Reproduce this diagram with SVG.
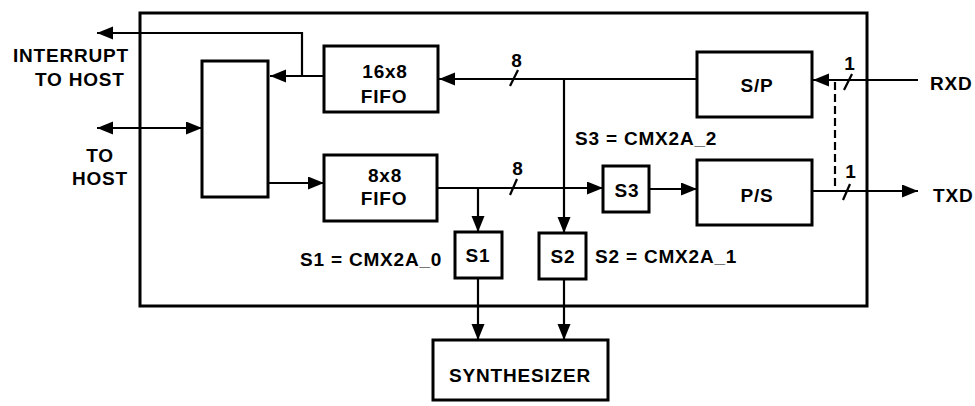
<svg xmlns="http://www.w3.org/2000/svg" width="975" height="406" viewBox="0 0 975 406">
<style>
.box{fill:none;stroke:#000;stroke-width:3}
.ln{fill:none;stroke:#000;stroke-width:2.2}
.arr{marker-end:url(#ah)}
.t{font-family:"Liberation Sans",Arial,sans-serif;font-weight:bold;font-size:19px;letter-spacing:0.8px;fill:#000}
.m{text-anchor:middle}
</style>
<defs>
<marker id="ah" markerUnits="userSpaceOnUse" markerWidth="17" markerHeight="14" refX="16" refY="6.5" orient="auto-start-reverse">
<path d="M0,0 L16,6.5 L0,13 z" fill="#000"/>
</marker>
</defs>
<rect width="975" height="406" fill="#fff"/>
<g id="outer"><rect class="box" x="140" y="13" width="727" height="293"/></g>
<g id="connectors">
<line class="ln arr" x1="324" y1="76" x2="270" y2="76"/>
<polyline class="ln arr" points="302,76 302,33 97,33"/>
<line class="ln" x1="97" y1="128" x2="202" y2="128" marker-start="url(#ah)" marker-end="url(#ah)"/>
<line class="ln arr" x1="268" y1="183" x2="324" y2="183"/>
<line class="ln arr" x1="697" y1="79" x2="439" y2="79"/>
<line class="ln arr" x1="564" y1="79" x2="564" y2="233"/>
<line class="ln arr" x1="437" y1="188" x2="603" y2="188"/>
<line class="ln arr" x1="478" y1="188" x2="478" y2="232"/>
<line class="ln arr" x1="649" y1="189" x2="697" y2="189"/>
<line class="ln arr" x1="812" y1="191" x2="918" y2="191"/>
<line class="ln arr" x1="918" y1="80" x2="813" y2="80"/>
<line class="ln arr" x1="478" y1="278" x2="478" y2="340"/>
<line class="ln arr" x1="564" y1="279" x2="564" y2="340"/>
<line class="ln" x1="835" y1="82" x2="835" y2="191" stroke-dasharray="8,4"/>
<line class="ln" x1="510" y1="86" x2="518" y2="70"/>
<line class="ln" x1="510" y1="195" x2="517" y2="179"/>
<line class="ln" x1="844" y1="90" x2="852" y2="74"/>
<line class="ln" x1="843" y1="200" x2="850" y2="184"/>
<text class="t m" x="517" y="67">8</text>
<text class="t m" x="518" y="175">8</text>
<text class="t m" x="850" y="70">1</text>
<text class="t m" x="851" y="178">1</text>
</g>
<g id="host-labels">
<text class="t" x="13" y="62">INTERRUPT</text>
<text class="t" x="35" y="86">TO HOST</text>
<text class="t m" x="100" y="162">TO</text>
<text class="t m" x="100" y="185">HOST</text>
</g>
<g id="interface"><rect class="box" x="202" y="61" width="66" height="136"/></g>
<g id="fifo16"><rect class="box" x="324" y="46" width="114" height="66"/>
<text class="t m" x="385" y="78">16x8</text><text class="t m" x="384" y="103">FIFO</text></g>
<g id="fifo8"><rect class="box" x="324" y="155" width="113" height="66"/>
<text class="t m" x="385" y="182">8x8</text><text class="t m" x="384" y="205">FIFO</text></g>
<g id="sp"><rect class="box" x="697" y="52" width="115" height="65"/>
<text class="t m" x="757" y="92">S/P</text></g>
<g id="ps"><rect class="box" x="697" y="160" width="115" height="65"/>
<text class="t m" x="757" y="202">P/S</text></g>
<g id="s3"><rect class="box" x="603" y="166" width="46" height="46"/>
<text class="t m" x="627" y="197">S3</text></g>
<g id="s1"><rect class="box" x="455" y="232" width="47" height="46"/>
<text class="t m" x="478" y="262">S1</text></g>
<g id="s2"><rect class="box" x="539" y="233" width="47" height="46"/>
<text class="t m" x="563" y="263">S2</text></g>
<g id="synth"><rect class="box" x="433" y="340" width="175" height="60"/>
<text class="t m" x="520" y="382">SYNTHESIZER</text></g>
<g id="labels">
<text class="t" x="575" y="145">S3 = CMX2A_2</text>
<text class="t" x="300" y="266">S1 = CMX2A_0</text>
<text class="t" x="595" y="263">S2 = CMX2A_1</text>
<text class="t" x="930" y="90">RXD</text>
<text class="t" x="933" y="202">TXD</text>
</g>
</svg>
